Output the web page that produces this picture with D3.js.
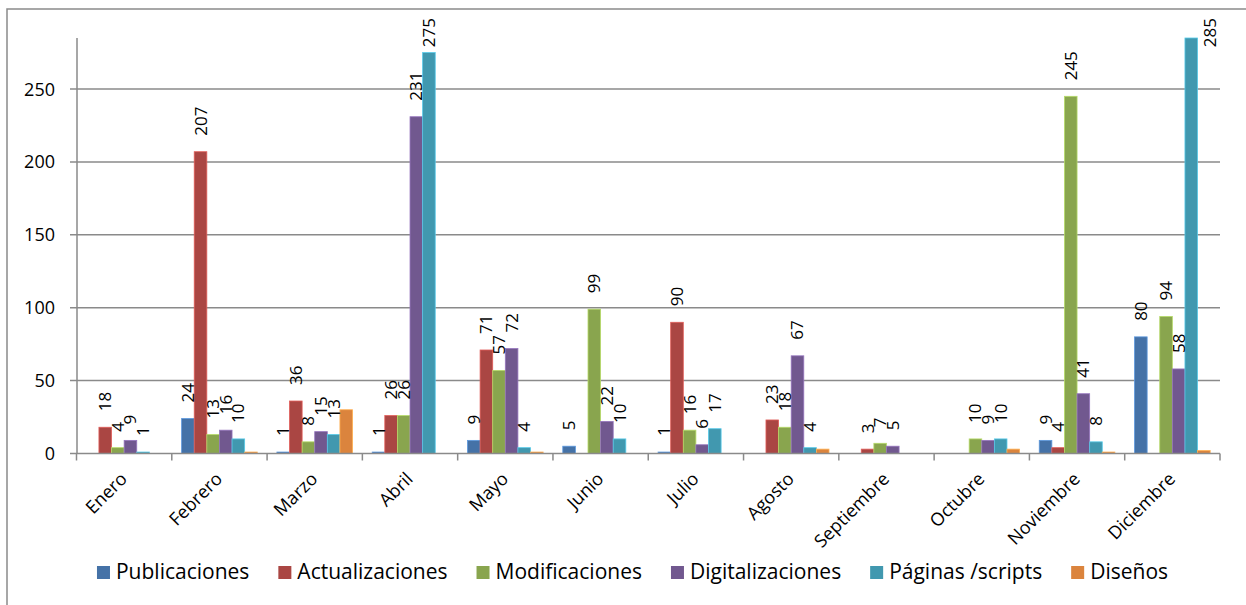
<!DOCTYPE html>
<html lang="es">
    <head>
        <meta charset="UTF-8" />
        <title>Actividad mensual</title>
        <script src="https://d3js.org/d3.v7.min.js"></script>
        <style>
            body {
                margin: 0;
                background: #fff;
            }
            text {
                font-family: "Open Sans", sans-serif;
                fill: #000;
            }
            .grid,
            .axis-line {
                stroke: #8a8a8a;
                stroke-width: 1.5px;
            }
        </style>
    </head>
    <body>
        <div id="chart"></div>
        <script>
            const width = 1246,
                height = 605;

            const months = [
                "Enero", "Febrero", "Marzo", "Abril", "Mayo", "Junio",
                "Julio", "Agosto", "Septiembre", "Octubre", "Noviembre", "Diciembre",
            ];
            const series = [
                "Publicaciones",
                "Actualizaciones",
                "Modificaciones",
                "Digitalizaciones",
                "Páginas /scripts",
                "Diseños",
            ];
            const colors = ["#4572A7", "#AA4643", "#89A54E", "#71588F", "#4198AF", "#DB843D"];

            const publicaciones = [0, 24, 1, 1, 9, 5, 1, 0, 0, 0, 9, 80];
            const actualizaciones = [18, 207, 36, 26, 71, 0, 90, 23, 3, 0, 4, 0];
            const modificaciones = [4, 13, 8, 26, 57, 99, 16, 18, 7, 10, 245, 94];
            const digitalizaciones = [9, 16, 15, 231, 72, 22, 6, 67, 5, 9, 41, 58];
            const paginas = [1, 10, 13, 275, 4, 10, 17, 4, 0, 10, 8, 285];
            const disenos = [0, 1, 30, 0, 1, 0, 0, 3, 0, 3, 1, 2];

            const yTicks = [0, 50, 100, 150, 200, 250];
            const yMax = 285;

            const values = [publicaciones, actualizaciones, modificaciones, digitalizaciones, paginas, disenos];
            // Diseños has no value labels in the original
            const labelled = [true, true, true, true, true, false];

            const svg = d3
                .select("#chart")
                .append("svg")
                .attr("width", width)
                .attr("height", height);

            // outer frame (right and bottom edges fall outside the picture)
            svg.append("rect")
                .attr("x", 7)
                .attr("y", 9)
                .attr("width", width + 10)
                .attr("height", height + 10)
                .attr("fill", "none")
                .attr("stroke", "#8a8a8a")
                .attr("stroke-width", 1.5);

            const x = d3.scaleBand().domain(months).range([76.5, 1220]);
            const x1 = d3
                .scaleBand()
                .domain(series)
                .range([0, x.bandwidth()])
                .paddingOuter(0.78);
            const y = d3.scaleLinear().domain([0, yMax]).range([453.5, 38]);

            // gridlines
            svg.selectAll(".grid")
                .data(yTicks.filter((t) => t > 0))
                .join("line")
                .attr("class", "grid")
                .attr("x1", 70)
                .attr("x2", 1220)
                .attr("y1", (d) => y(d))
                .attr("y2", (d) => y(d));

            // y axis
            svg.append("line")
                .attr("class", "axis-line")
                .attr("x1", 77)
                .attr("x2", 77)
                .attr("y1", y(yMax))
                .attr("y2", y(0));
            svg.append("line")
                .attr("class", "axis-line")
                .attr("x1", 70)
                .attr("x2", 77)
                .attr("y1", y(0))
                .attr("y2", y(0));

            svg.selectAll(".ytick")
                .data(yTicks)
                .join("text")
                .attr("class", "ytick")
                .attr("x", 55)
                .attr("y", (d) => y(d))
                .attr("dy", "0.36em")
                .attr("text-anchor", "end")
                .style("font-size", "18px")
                .text((d) => d);

            // bars
            const groups = svg
                .selectAll(".month")
                .data(months)
                .join("g")
                .attr("class", "month")
                .attr("transform", (m) => `translate(${x(m)},0)`);

            groups
                .selectAll("rect")
                .data((m, i) => series.map((s, k) => ({ s, k, v: values[k][i] })))
                .join("rect")
                .filter((d) => d.v > 0)
                .attr("x", (d) => x1(d.s))
                .attr("width", x1.bandwidth())
                .attr("y", (d) => y(d.v))
                .attr("height", (d) => y(0) - y(d.v))
                .attr("fill", (d) => colors[d.k])
                .attr("stroke", (d) => d3.color(colors[d.k]).brighter(0.8))
                .attr("stroke-width", 0.8);

            // x axis
            svg.append("line")
                .attr("class", "axis-line")
                .attr("x1", 77)
                .attr("x2", 1220)
                .attr("y1", y(0))
                .attr("y2", y(0));

            svg.selectAll(".xtick")
                .data(d3.range(months.length + 1))
                .join("line")
                .attr("class", "axis-line xtick")
                .attr("x1", (i) => x.range()[0] + i * x.step())
                .attr("x2", (i) => x.range()[0] + i * x.step())
                .attr("y1", y(0))
                .attr("y2", y(0) + 7);

            svg.selectAll(".xlabel")
                .data(months)
                .join("text")
                .attr("class", "xlabel")
                .attr("text-anchor", "end")
                .attr("transform", (m) => `translate(${x(m) + x.bandwidth() / 2 + 4},480) rotate(-45)`)
                .style("font-size", "18px")
                .text((m) => m);

            // value labels, rotated above each bar
            const labelData = [];
            months.forEach((m, i) => {
                values.forEach((vals, k) => {
                    if (labelled[k] && vals[i] > 0) labelData.push({ m, k, v: vals[i] });
                });
            });

            svg.selectAll(".value")
                .data(labelData)
                .join("text")
                .attr("class", "value")
                .style("font-size", "17px")
                .text((d) => d.v)
                .each(function (d) {
                    const len = this.getComputedTextLength();
                    const left = x(d.m) + x1(series[d.k]);
                    const top = y(d.v);
                    let bottom = top - 16;
                    let cx = left + x1.bandwidth() / 2 + 6;
                    if (bottom - len < 18) {
                        bottom = 18 + len;
                        // would overlap the bar: move beside it
                        if (bottom > top) cx = left + x1.bandwidth() + 18;
                    }
                    d3.select(this).attr("transform", `translate(${cx},${bottom}) rotate(-90)`);
                });

            // legend
            const legend = svg.append("g");
            const items = legend
                .selectAll("g")
                .data(series)
                .join("g");

            items.append("rect")
                .attr("y", 566)
                .attr("width", 13)
                .attr("height", 13)
                .attr("fill", (d, i) => colors[i]);

            items.append("text")
                .attr("x", 19)
                .attr("y", 579)
                .style("font-size", "21px")
                .text((d) => d);

            const gap = 29;
            let pos = 0;
            items.each(function () {
                d3.select(this).attr("transform", `translate(${pos},0)`);
                pos += 19 + d3.select(this).select("text").node().getComputedTextLength() + gap;
            });
            pos -= gap;
            legend.attr("transform", `translate(${632.5 - pos / 2},0)`);
        </script>
    </body>
</html>
